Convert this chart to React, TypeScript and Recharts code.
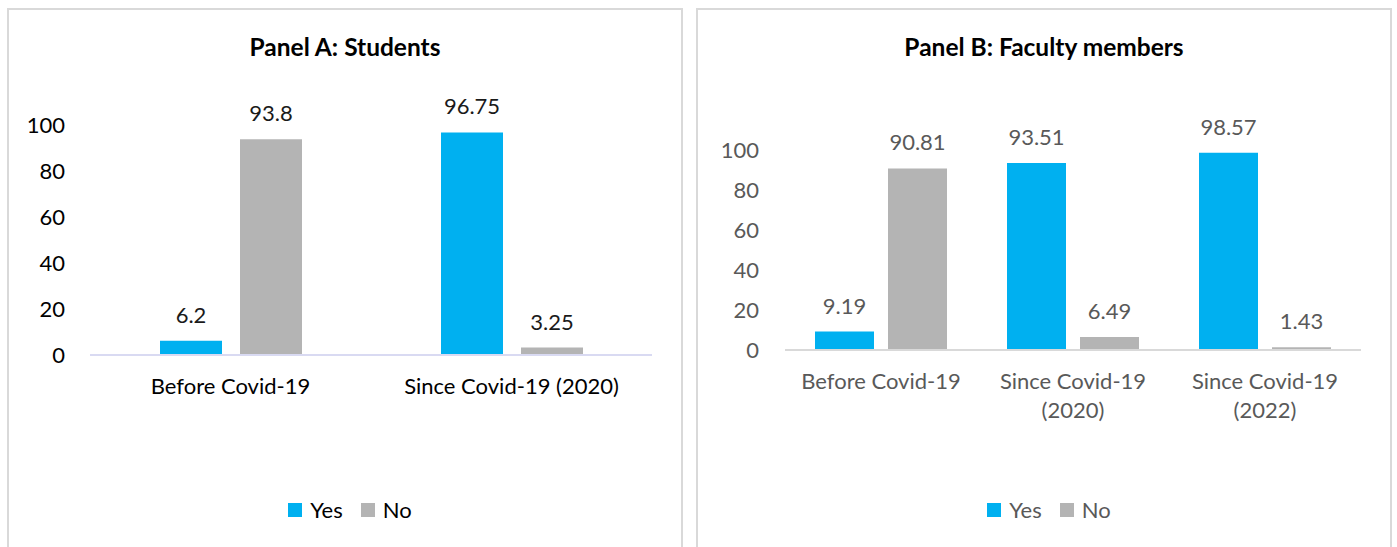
import React from 'react';
import { BarChart, Bar, XAxis, YAxis, LabelList, Legend } from 'recharts';

// ---- Data ----
const studentCategories = ['Before Covid-19', 'Since Covid-19 (2020)'];
const studentYes = [6.2, 96.75];
const studentNo = [93.8, 3.25];

const facultyCategories = ['Before Covid-19', 'Since Covid-19 (2020)', 'Since Covid-19 (2022)'];
const facultyYes = [9.19, 93.51, 98.57];
const facultyNo = [90.81, 6.49, 1.43];

const yTicks = [0, 20, 40, 60, 80, 100];
const seriesNames = ['Yes', 'No'];
const titles = ['Panel A: Students', 'Panel B: Faculty members'];

const BLUE = '#00B0F0';
const GRAY = '#B4B4B4';
const FONT = 'Lato, "Liberation Sans", sans-serif';
const FS = 22;

const buildRows = (cats: string[], yes: number[], no: number[]) =>
  cats.map((c, i) => ({ category: c, [seriesNames[0]]: yes[i], [seriesNames[1]]: no[i] }));

const studentRows = buildRows(studentCategories, studentYes, studentNo);
const facultyRows = buildRows(facultyCategories, facultyYes, facultyNo);

const makeTick = (color: string, wrap: boolean) => (props: any) => {
  const { x, y, payload } = props;
  const text: string = String(payload.value);
  let lines = [text];
  if (wrap) {
    const idx = text.indexOf(' (');
    if (idx > 0) lines = [text.slice(0, idx), text.slice(idx + 1)];
  }
  return (
    <g>
      {lines.map((l, i) => (
        <text
          key={i}
          x={x}
          y={y + 39 + i * 29}
          textAnchor="middle"
          fill={color}
          fontFamily={FONT}
          fontSize={FS}
        >
          {l}
        </text>
      ))}
    </g>
  );
};

const makeLegend = (color: string) => (props: any) => {
  const payload = [...(props.payload || [])].sort(
    (a: any, b: any) => seriesNames.indexOf(a.value) - seriesNames.indexOf(b.value)
  );
  return (
    <div
      style={{
        display: 'flex',
        justifyContent: 'center',
        alignItems: 'center',
        fontFamily: FONT,
        fontSize: FS,
        lineHeight: '26px',
        color,
        paddingLeft: 10,
      }}
    >
      {payload.map((p: any, i: number) => (
        <span
          key={i}
          style={{ display: 'inline-flex', alignItems: 'center', marginRight: i === payload.length - 1 ? 0 : 18 }}
        >
          <span style={{ width: 14, height: 14, background: p.color, display: 'inline-block', marginRight: 8 }} />
          <span>{p.value}</span>
        </span>
      ))}
    </div>
  );
};

type PanelProps = {
  left: number;
  width: number;
  title: string;
  rows: any[];
  top: number;
  bottom: number;
  marginLeft: number;
  yTickMargin: number;
  barSize: number;
  barGap: number;
  axisColor: string;
  textColor: string;
  labelColor: string;
  wrap: boolean;
};

function Panel(p: PanelProps) {
  return (
    <>
      <div
        style={{
          position: 'absolute',
          left: p.left - 1,
          top: 8,
          width: p.width + 2,
          height: 600,
          border: '2px solid #d9d9d9',
          boxSizing: 'border-box',
        }}
      />
      <div
        style={{
          position: 'absolute',
          left: p.left,
          top: 33,
          width: p.width,
          textAlign: 'center',
          fontFamily: FONT,
          fontWeight: 700,
          fontSize: 24.5,
          lineHeight: '28px',
          color: '#000',
        }}
      >
        {p.title}
      </div>
      <div style={{ position: 'absolute', left: p.left, top: 0 }}>
        <BarChart
          width={p.width}
          height={547}
          data={p.rows}
          margin={{ top: p.top, right: 30, bottom: 0, left: p.marginLeft }}
          barGap={p.barGap}
        >
          <XAxis
            dataKey="category"
            height={547 - p.bottom}
            axisLine={{ stroke: p.axisColor, strokeWidth: 2 }}
            tickLine={false}
            tickSize={0}
            tickMargin={0}
            interval={0}
            tick={makeTick(p.textColor, p.wrap)}
          />
          <YAxis
            width={60}
            domain={[0, 100]}
            ticks={yTicks}
            axisLine={false}
            tickLine={false}
            tickSize={0}
            tickMargin={p.yTickMargin}
            tick={{ fill: p.textColor, fontFamily: FONT, fontSize: FS }}
          />
          <Legend
            layout="horizontal"
            verticalAlign="middle"
            align="center"
            wrapperStyle={{ top: 497, left: 0, width: p.width }}
            content={makeLegend(p.textColor)}
          />
          <Bar dataKey={seriesNames[0]} fill={BLUE} barSize={p.barSize} isAnimationActive={false}>
            <LabelList
              dataKey={seriesNames[0]}
              position="top"
              offset={18}
              fill={p.labelColor}
              fontFamily={FONT}
              fontSize={FS}
            />
          </Bar>
          <Bar dataKey={seriesNames[1]} fill={GRAY} barSize={p.barSize} isAnimationActive={false}>
            <LabelList
              dataKey={seriesNames[1]}
              position="top"
              offset={18}
              fill={p.labelColor}
              fontFamily={FONT}
              fontSize={FS}
            />
          </Bar>
        </BarChart>
      </div>
    </>
  );
}

export default function App() {
  return (
    <div
      style={{
        position: 'absolute',
        left: 0,
        top: 0,
        width: 1397,
        height: 547,
        overflow: 'hidden',
        background: '#fff',
      }}
    >
      <Panel
        left={8}
        width={674}
        title={titles[0]}
        rows={studentRows}
        top={125}
        bottom={355}
        marginLeft={22}
        yTickMargin={25}
        barSize={62}
        barGap={18}
        axisColor="#D9DAF2"
        textColor="#000000"
        labelColor="#1a1a1a"
        wrap={false}
      />
      <Panel
        left={697}
        width={694}
        title={titles[1]}
        rows={facultyRows}
        top={150}
        bottom={350}
        marginLeft={28}
        yTickMargin={26}
        barSize={59}
        barGap={14}
        axisColor="#D9D9D9"
        textColor="#595959"
        labelColor="#595959"
        wrap={true}
      />
    </div>
  );
}
